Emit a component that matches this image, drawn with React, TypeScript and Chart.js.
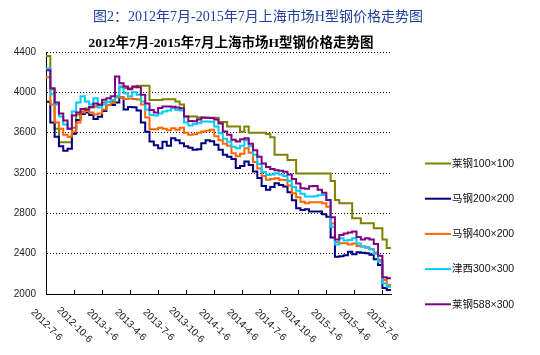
import React, { useEffect, useRef } from 'react';
import { Chart, registerables } from 'chart.js';

Chart.register(...registerables);

const captionText = '图2：2012年7月-2015年7月上海市场H型钢价格走势图';
const chartTitle = '2012年7月-2015年7月上海市场H型钢价格走势图';

// x positions: weeks since 2012-7-6 (biweekly samples)
const weeks = [
  0, 2, 4, 6, 8, 10, 12, 14, 16, 18, 20, 22, 24, 26, 28, 30, 32, 34, 36, 38,
  40, 42, 44, 46, 48, 50, 52, 54, 56, 58, 60, 62, 64, 66, 68, 70, 72, 74, 76, 78,
  80, 82, 84, 86, 88, 90, 92, 94, 96, 98, 100, 102, 104, 106, 108, 110, 112, 114, 116, 118,
  120, 122, 124, 126, 128, 130, 132, 134, 136, 138, 140, 142, 144, 146, 148, 150, 152, 154, 156, 158,
  160,
];

const tickWeeks = [0, 13, 26, 39, 52, 65, 78, 91, 104, 117, 130, 143, 156];
const tickLabels = [
  '2012-7-6', '2012-10-6', '2013-1-6', '2013-4-6', '2013-7-6', '2013-10-6', '2014-1-6',
  '2014-4-6', '2014-7-6', '2014-10-6', '2015-1-6', '2015-4-6', '2015-7-6',
];

const seriesNames = ['莱钢100×100', '马钢200×200', '马钢400×200', '津西300×300', '莱钢588×300'];
const seriesColors = ['#808000', '#000080', '#FF6600', '#00CCFF', '#800080'];

const laigang100 = [
  4360, 4030, 3640, 3505, 3505, 3505, 3650, 3780, 3810, 3840,
  3850, 3860, 3880, 3900, 3905, 3910, 3960, 4050, 4040, 4040,
  4050, 4065, 4065, 4065, 3925, 3925, 3925, 3932, 3932, 3932,
  3910, 3880, 3760, 3760, 3760, 3750, 3748, 3748, 3748, 3748,
  3705, 3705, 3660, 3660, 3660, 3610, 3660, 3600, 3600, 3600,
  3600, 3588, 3555, 3380, 3380, 3380, 3330, 3330, 3195, 3195,
  3195, 3195, 3195, 3195, 3195, 3195, 3120, 2933, 2900, 2900,
  2900, 2751, 2751, 2702, 2702, 2702, 2652, 2652, 2540, 2455, 2455,
];

const magang200 = [
  3907, 3700, 3560, 3465, 3420, 3440, 3590, 3726, 3785, 3800,
  3775, 3735, 3759, 3815, 3874, 3874, 3900, 3950, 3830, 3855,
  3853, 3820, 3700, 3610, 3512, 3475, 3446, 3510, 3470, 3545,
  3525, 3496, 3465, 3450, 3430, 3435, 3496, 3525, 3515, 3480,
  3430, 3380, 3360, 3340, 3250, 3270, 3314, 3280, 3215, 3150,
  3070, 3035, 3060, 3099, 3082, 3066, 3010, 2930, 2850, 2834,
  2840, 2817, 2817, 2817, 2790, 2767, 2560, 2370, 2375, 2385,
  2420, 2395, 2415, 2410, 2403, 2390, 2345, 2288, 2060, 2040, 2040,
];

const magang400 = [
  4150, 3880, 3700, 3640, 3580, 3560, 3611, 3700, 3800, 3815,
  3800, 3780, 3790, 3830, 3875, 3895, 3950, 3950, 3935, 3940,
  3935, 3930, 3880, 3750, 3635, 3635, 3650, 3640, 3625, 3644,
  3630, 3650, 3600, 3580, 3585, 3598, 3611, 3620, 3628, 3565,
  3525, 3490, 3470, 3395, 3365, 3390, 3446, 3400, 3310, 3245,
  3170, 3132, 3140, 3148, 3132, 3130, 3075, 3000, 2960, 2916,
  2900, 2910, 2910, 2910, 2900, 2865, 2700, 2515, 2503, 2503,
  2490, 2500, 2475, 2470, 2462, 2445, 2412, 2337, 2140, 2089, 2089,
];

const jinxi300 = [
  4240, 3980, 3880, 3760, 3680, 3640, 3810, 3900, 3960, 3910,
  3880, 3942, 3850, 3880, 3905, 3925, 3960, 4060, 3990, 3960,
  4000, 3975, 3910, 3830, 3775, 3770, 3790, 3810, 3820, 3843,
  3826, 3820, 3700, 3670, 3685, 3695, 3710, 3710, 3708, 3660,
  3595, 3540, 3510, 3460, 3446, 3470, 3525, 3465, 3380, 3290,
  3210, 3181, 3185, 3198, 3185, 3170, 3120, 3060, 3025, 2995,
  2966, 2966, 2970, 2980, 2983, 2933, 2668, 2490, 2553, 2530,
  2535, 2553, 2500, 2470, 2462, 2445, 2400, 2321, 2106, 2072, 2072,
];

const laigang588 = [
  4220, 4040, 3900, 3790, 3720, 3640, 3770, 3800, 3835, 3830,
  3855, 3890, 3878, 3926, 3942, 3960, 4157, 4091, 4058, 4030,
  4058, 4050, 3975, 3890, 3825, 3800, 3845, 3860, 3860, 3858,
  3850, 3843, 3760, 3715, 3712, 3730, 3750, 3748, 3746, 3730,
  3690, 3611, 3580, 3530, 3512, 3535, 3545, 3490, 3425, 3360,
  3295, 3260, 3240, 3228, 3222, 3212, 3185, 3140, 3095, 3050,
  3045, 3068, 3070, 3035, 3005, 2933, 2760, 2540, 2585, 2600,
  2610, 2619, 2565, 2540, 2553, 2540, 2495, 2380, 2165, 2156, 2156,
];

const seriesValues = [laigang100, magang200, magang400, jinxi300, laigang588];

const overlayPlugin = {
  id: 'overlay',
  afterDraw(chart: any) {
    const ctx = chart.ctx as CanvasRenderingContext2D;
    const xScale = chart.scales.x;
    const area = chart.chartArea;
    ctx.save();
    // caption
    ctx.fillStyle = '#1f3f9f';
    ctx.font = '14px "Liberation Serif", "Noto Sans CJK SC"';
    ctx.textAlign = 'center';
    ctx.textBaseline = 'middle';
    ctx.fillText(captionText, 258, 17);
    // chart title
    ctx.fillStyle = '#000';
    ctx.font = 'bold 13.5px "Liberation Serif", "Noto Sans CJK SC"';
    ctx.fillText(chartTitle, 231, 44);
    // x tick marks (inside) and rotated labels
    ctx.strokeStyle = '#000';
    ctx.lineWidth = 1;
    ctx.font = '10px "Liberation Sans", "Noto Sans CJK SC"';
    ctx.fillStyle = '#111';
    tickWeeks.forEach((w, i) => {
      const px = Math.round(xScale.getPixelForValue(w)) + 0.5;
      ctx.beginPath();
      ctx.moveTo(px, area.bottom);
      ctx.lineTo(px, area.bottom - 4);
      ctx.stroke();
      ctx.save();
      ctx.translate(px, 325);
      ctx.rotate(Math.PI / 4);
      ctx.textAlign = 'center';
      ctx.textBaseline = 'middle';
      ctx.fillText(tickLabels[i], 0, 0);
      ctx.restore();
    });
    // legend
    ctx.font = '10.5px "Liberation Sans", "Noto Sans CJK SC"';
    ctx.textAlign = 'left';
    ctx.textBaseline = 'middle';
    seriesNames.forEach((name, i) => {
      const y = 163.5 + i * 35.2;
      ctx.strokeStyle = seriesColors[i];
      ctx.lineWidth = 2;
      ctx.beginPath();
      ctx.moveTo(425, y);
      ctx.lineTo(451, y);
      ctx.stroke();
      ctx.fillStyle = '#111';
      ctx.fillText(name, 452, y + 0.5);
    });
    ctx.restore();
  },
};

export default function App() {
  const ref = useRef<HTMLCanvasElement>(null);
  useEffect(() => {
    if (!ref.current) return;
    const datasets = seriesValues.map((vals, i) => ({
      label: seriesNames[i],
      data: vals.map((v, j) => ({ x: weeks[j], y: v })),
      borderColor: seriesColors[i],
      backgroundColor: seriesColors[i],
      borderWidth: 2,
      pointRadius: 0,
      stepped: true,
      fill: false,
      order: 4 - i,
    }));
    const chart = new Chart(ref.current, {
      type: 'line',
      data: { datasets },
      options: {
        responsive: false,
        animation: false,
        devicePixelRatio: 1,
        layout: { padding: { top: 52, right: 149, left: 0, bottom: 0 }, autoPadding: false },
        plugins: { legend: { display: false }, title: { display: false }, tooltip: { enabled: false } },
        scales: {
          x: {
            type: 'linear',
            min: 0,
            max: 160,
            afterBuildTicks: (scale: any) => {
              scale.ticks = tickWeeks.map((v) => ({ value: v }));
            },
            afterFit: (scale: any) => {
              scale.height = 61;
            },
            ticks: { display: false, includeBounds: false },
            grid: { drawOnChartArea: false, drawTicks: false },
            border: { display: true, color: '#000', width: 1 },
          },
          y: {
            type: 'linear',
            min: 2000,
            max: 4400,
            afterFit: (scale: any) => {
              scale.width = 46;
            },
            ticks: {
              stepSize: 400,
              padding: 10,
              color: '#222',
              font: { family: '"Liberation Sans", "Noto Sans CJK SC"', size: 10 },
              callback: (v: any) => String(v),
            },
            grid: { drawTicks: false, color: '#000', lineWidth: 1 },
            border: { display: true, color: '#000', width: 1, dash: [1, 2] },
          },
        },
      },
      plugins: [overlayPlugin],
    } as any);
    return () => chart.destroy();
  }, []);
  return (
    <div style={{ position: 'fixed', left: 0, top: 0, width: 540, height: 355, background: '#fff' }}>
      <canvas ref={ref} width={540} height={355} />
    </div>
  );
}
